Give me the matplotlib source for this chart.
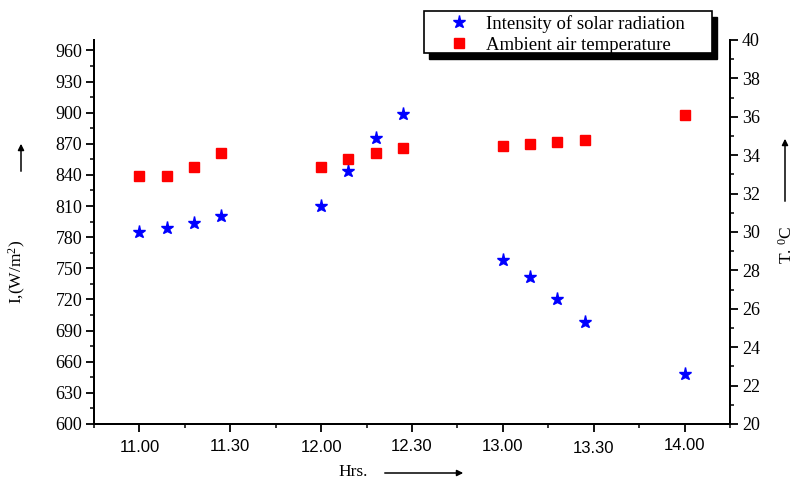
import matplotlib
matplotlib.use("Agg")
import matplotlib.pyplot as plt
import matplotlib.transforms as mtransforms
from matplotlib.ticker import MultipleLocator
from matplotlib.patches import Rectangle

plt.rcParams['mathtext.fontset'] = 'custom'
plt.rcParams['mathtext.rm'] = 'Liberation Serif'
plt.rcParams['mathtext.it'] = 'Liberation Serif:italic'

# time of reading in decimal hours
hrs = [11.0, 11.15, 11.3, 11.45, 12.0, 12.15, 12.3, 12.45,
       13.0, 13.15, 13.3, 13.45, 14.0]
intensity = [785, 789, 794, 800, 810, 844, 876, 899,
             758, 742, 720, 698, 648]
temp = [32.9, 32.9, 33.4, 34.1, 33.4, 33.8, 34.1, 34.4,
        34.5, 34.6, 34.7, 34.8, 36.1]

xticks = [11.0, 11.5, 12.0, 12.5, 13.0, 13.5, 14.0]
xlabels = ['11.00', '11.30', '12.00', '12.30', '13.00', '13.30', '14.00']
# the hour labels sit slightly uneven in height (points, + is up)
xlabel_shift = [0, 1.0, 0, 0.8, 0.5, -1.0, 1.5]

serif = 'Liberation Serif'
sans = 'Liberation Sans'

fig = plt.figure(figsize=(7.98, 4.8), dpi=100)
ax = fig.add_axes([94/798, 56/480, 636/798, 384/480])
ax2 = ax.twinx()

ax.plot(hrs, intensity, ls='none', marker='*', ms=9.5, color='#0000ff',
        label='Intensity of solar radiation')
ax2.plot(hrs, temp, ls='none', marker='s', ms=6.5, color='#ff0000',
         label='Ambient air temperature')

ax.set_xlim(10.75, 14.25)
ax.set_ylim(600, 970)
ax2.set_ylim(20, 40)

ax.set_xticks(xticks)
ax.set_xticklabels(xlabels, fontfamily=sans, fontsize=12)
ax.xaxis.set_minor_locator(MultipleLocator(0.25))
ax.yaxis.set_major_locator(MultipleLocator(30))
ax.yaxis.set_minor_locator(MultipleLocator(15))
ax2.yaxis.set_major_locator(MultipleLocator(2))
ax2.yaxis.set_minor_locator(MultipleLocator(1))

for a in (ax, ax2):
    a.spines['top'].set_visible(False)
    for s in a.spines.values():
        s.set_linewidth(1.4)
    a.tick_params(which='major', length=5.5, width=1.3, direction='out')
    a.tick_params(which='minor', length=3, width=1.1, direction='out')
    for lab in a.get_yticklabels():
        lab.set_fontfamily(serif)
        lab.set_fontsize(13)
ax.tick_params(axis='x', pad=6)
ax.tick_params(axis='y', pad=3)
ax2.tick_params(axis='y', pad=3)

for lab, dy in zip(ax.get_xticklabels(), xlabel_shift):
    off = mtransforms.ScaledTranslation(0, dy / 72, fig.dpi_scale_trans)
    lab.set_transform(lab.get_transform() + off)

# axis titles with arrows
arrow = dict(arrowstyle='-|>', color='k', lw=1.1, mutation_scale=9)
fig.text(17/798, 1 - 272/480, 'I,(W/m$^2$)', rotation=90, ha='center',
         va='center', fontfamily=serif, fontsize=12.5)
ax.annotate('', xy=(21/798, 1 - 141/480), xytext=(21/798, 1 - 174/480),
            xycoords='figure fraction', textcoords='figure fraction',
            arrowprops=arrow)
fig.text(787/798, 1 - 245/480, 'T. $^{0}$C', rotation=90, ha='center',
         va='center', fontfamily=serif, fontsize=12.5)
ax.annotate('', xy=(785/798, 1 - 136/480), xytext=(785/798, 1 - 204/480),
            xycoords='figure fraction', textcoords='figure fraction',
            arrowprops=arrow)
fig.text(353/798, 1 - 472/480, 'Hrs.', ha='center', va='center',
         fontfamily=serif, fontsize=12.5)
ax.annotate('', xy=(466/798, 1 - 473/480), xytext=(382/798, 1 - 473/480),
            xycoords='figure fraction', textcoords='figure fraction',
            arrowprops=arrow)

# legend box above the plot, white frame over a solid black drop shadow
x0, y0, w, h = 424, 11, 288, 42
fig.add_artist(Rectangle((x0 + 5, 480 - y0 - h - 6), w, h, transform=None,
                         facecolor='k', edgecolor='k', zorder=3))
fig.add_artist(Rectangle((x0, 480 - y0 - h), w, h, transform=None,
                         facecolor='white', edgecolor='k', lw=1.2, zorder=4))
h1, l1 = ax.get_legend_handles_labels()
h2, l2 = ax2.get_legend_handles_labels()
leg = fig.legend(h1 + h2, l1 + l2, loc='upper left',
                 bbox_to_anchor=(x0/798, 1 - y0/480),
                 prop={'family': serif, 'size': 13.5}, frameon=False,
                 borderaxespad=0, borderpad=0.2, labelspacing=0.2,
                 handlelength=3.3, handletextpad=-0.2)
leg.set_zorder(5)

fig.savefig('out.png', dpi=100)
